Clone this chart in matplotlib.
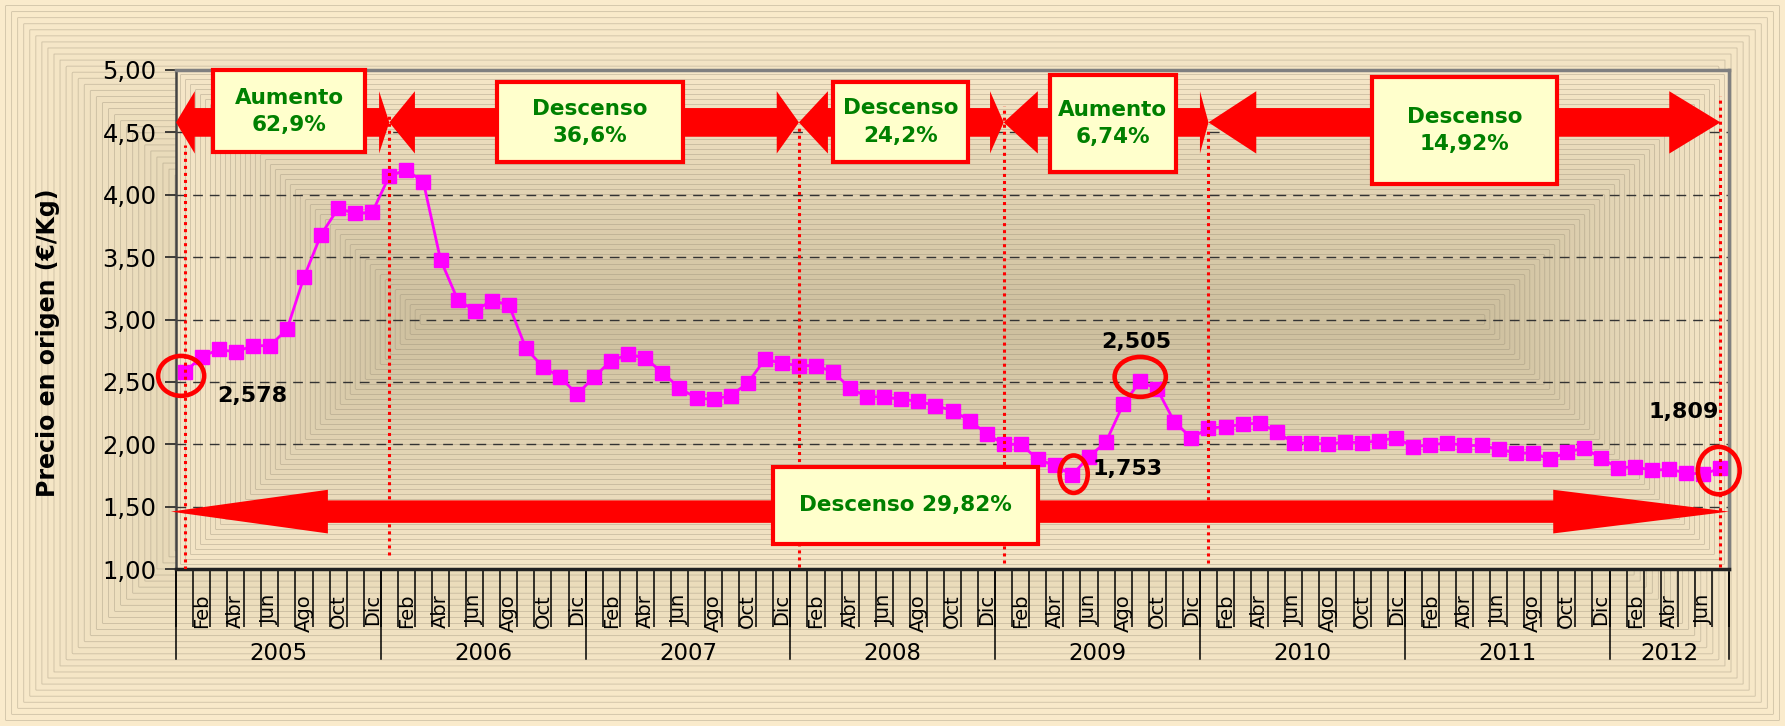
import numpy as np
import matplotlib
matplotlib.use("Agg")
import matplotlib.pyplot as plt
from matplotlib.patches import FancyArrow, Rectangle, Ellipse
from matplotlib.colors import LinearSegmentedColormap

# ---- data ----
years = [2005, 2006, 2007, 2008, 2009, 2010, 2011, 2012]
month_names = ["Ene", "Feb", "Mar", "Abr", "May", "Jun",
               "Jul", "Ago", "Sep", "Oct", "Nov", "Dic"]

prices = [
    2.578, 2.70, 2.76, 2.74, 2.79, 2.79, 2.92, 3.34, 3.68, 3.89, 3.85, 3.86,   # 2005
    4.15, 4.20, 4.10, 3.48, 3.16, 3.07, 3.15, 3.12, 2.77, 2.62, 2.54, 2.40,     # 2006
    2.54, 2.67, 2.72, 2.69, 2.575, 2.45, 2.37, 2.36, 2.39, 2.49, 2.68, 2.65,    # 2007
    2.63, 2.63, 2.58, 2.45, 2.38, 2.38, 2.36, 2.345, 2.31, 2.27, 2.19, 2.085,   # 2008
    2.00, 2.00, 1.88, 1.83, 1.753, 1.90, 2.02, 2.32, 2.505, 2.44, 2.18, 2.05,   # 2009
    2.13, 2.14, 2.16, 2.17, 2.10, 2.01, 2.01, 2.00, 2.02, 2.01, 2.03, 2.05,     # 2010
    1.98, 1.995, 2.01, 1.99, 1.99, 1.96, 1.93, 1.93, 1.88, 1.935, 1.97, 1.89,   # 2011
    1.81, 1.82, 1.79, 1.80, 1.77, 1.76, 1.809,                                  # 2012
]

# period limits (month index) and their change
period_bounds = [0, 12, 36, 48, 60, 90]
period_kind = ["Aumento", "Descenso", "Descenso", "Aumento", "Descenso"]
period_pct = ["62,9%", "36,6%", "24,2%", "6,74%", "14,92%"]
total_text = "Descenso 29,82%"

# highlighted months: first, minimum, peak, last
highlight_idx = [0, 52, 56, 90]

n = len(prices)
x = np.arange(n)

RED = "#FF0000"
GREEN = "#008000"
MAGENTA = "#FF00FF"

plt.rcParams["font.family"] = ["DejaVu Sans"]

fig = plt.figure(figsize=(17.85, 7.26), dpi=100)


def rect_field(w, h):
    yy, xx = np.mgrid[0:h, 0:w] + 0.5
    dx = np.abs(xx - w / 2) - (w - h) / 2
    dy = np.abs(yy - h / 2)
    return np.clip(np.maximum(dx, dy) / (h / 2), 0, 1)


def gradient(target, w, h, extent, c_in, c_out, steps, zorder):
    d = rect_field(w, h)
    q = np.floor(d * steps) / steps
    cmap = LinearSegmentedColormap.from_list("g", [c_in, c_out])
    target.imshow(q, cmap=cmap, vmin=0, vmax=1, extent=extent, origin="lower",
                  aspect="auto", interpolation="nearest", zorder=zorder)
    xs = np.linspace(extent[0], extent[1], w)
    ys = np.linspace(extent[2], extent[3], h)
    target.contour(xs, ys, d, levels=np.arange(1, steps) / steps,
                   colors="#8f8570", linewidths=0.6, alpha=0.4, zorder=zorder + 0.1)


# figure background
bg = fig.add_axes([0, 0, 1, 1], zorder=-10)
gradient(bg, 1785, 726, (0, 1, 0, 1), "#D3C5A2", "#FBECCD", 60, 0)
bg.set_xlim(0, 1)
bg.set_ylim(0, 1)
bg.axis("off")

# plot area
ax = fig.add_axes([176 / 1785, 1 - 569 / 726, 1553 / 1785, 499 / 726])
ax.set_xlim(-0.5, n - 0.5)
ax.set_ylim(1.0, 5.0)
gradient(ax, 1553, 499, (-0.5, n - 0.5, 1.0, 5.0), "#CDBF9E", "#F7E8C9", 50, 0)

for yv in np.arange(1.5, 5.01, 0.5):
    ax.axhline(yv, color="#333333", lw=1.0, linestyle=(0, (7, 5)), zorder=1)

# y axis
ax.set_yticks(np.arange(1.0, 5.01, 0.5))
ax.set_yticklabels([f"{v:.2f}".replace(".", ",") for v in np.arange(1.0, 5.01, 0.5)])
ax.tick_params(axis="y", length=8, width=1.2, pad=6, labelsize=17.5, color="#222222")

# x axis: month labels every two months, ticks at month boundaries
label_pos = [i for i in range(n) if i % 12 % 2 == 1]
ax.set_xticks(label_pos)
ax.set_xticklabels([month_names[i % 12] for i in label_pos], rotation=90)
ax.set_xticks(np.arange(-0.5, n, 1.0), minor=True)
ax.tick_params(axis="x", which="major", length=0, pad=18, labelsize=14)
ax.tick_params(axis="x", which="minor", length=42, width=1.1, color="black")

xt = ax.get_xaxis_transform()
year_edges = [12 * k - 0.5 for k in range(len(years))] + [n - 0.5]
for b in year_edges:
    ax.plot([b, b], [0, -90 / 499], transform=xt, clip_on=False, color="black", lw=1.1)
for k, yr in enumerate(years):
    centre = (year_edges[k] + year_edges[k + 1]) / 2
    ax.text(centre, -84 / 499, str(yr), transform=xt, ha="center", va="center",
            fontsize=16.5)

for side, col, lw in [("left", "#444444", 1.8), ("bottom", "#222222", 2.5),
                      ("top", "#808080", 2.5), ("right", "#808080", 2.5)]:
    ax.spines[side].set_color(col)
    ax.spines[side].set_linewidth(lw)

fig.text(0.027, 1 - 343 / 726, "Precio en origen (€/Kg)", rotation=90,
         ha="center", va="center", fontsize=17, fontweight="bold")

# data line
ax.plot(x, prices, color=MAGENTA, lw=2, marker="s", markersize=10.5,
        markeredgecolor=MAGENTA, zorder=3)

# red dotted period limits
line_tops = [4.40, 4.64, 4.55, 4.71, 4.52, 4.79]
line_bottoms = [1.0, 1.11, 1.02, 1.05, 1.05, 1.02]
for b, y0, y1 in zip(period_bounds, line_bottoms, line_tops):
    ax.plot([b, b], [y0, y1], color=RED, lw=2.2, linestyle=(0, (1, 1.3)), zorder=3.5)

# period arrows with boxes
arrow_y = 4.58
head_left = [1.1, 1.5, 1.7, 2.0, 2.8]
head_right = [0.6, 1.3, 0.8, 0.5, 3.0]
boxes = [(1.67, 10.6, 4.34, 5.0), (18.3, 29.2, 4.26, 4.90), (38.0, 45.9, 4.26, 4.905),
         (50.7, 58.1, 4.18, 4.96), (69.6, 80.4, 4.09, 4.94)]
for k in range(len(period_kind)):
    left = period_bounds[k] - (0.5 if k == 0 else 0)
    right = period_bounds[k + 1]
    mid = (left + right) / 2
    for tip, hl in [(left, head_left[k]), (right, head_right[k])]:
        ax.add_patch(FancyArrow(mid, arrow_y, tip - mid, 0, width=0.23, head_width=0.5,
                                head_length=hl, length_includes_head=True,
                                color=RED, lw=0, zorder=4, clip_on=False))
    x0, x1, y0, y1 = boxes[k]
    ax.add_patch(Rectangle((x0, y0), x1 - x0, y1 - y0, facecolor="#FFFFCC",
                           edgecolor=RED, lw=3, zorder=5, clip_on=False))
    ax.text((x0 + x1) / 2, (y0 + y1) / 2, f"{period_kind[k]}\n{period_pct[k]}",
            ha="center", va="center", color=GREEN, fontsize=15.5, fontweight="bold",
            linespacing=1.45, zorder=6)

# total arrow along the bottom
total_y = 1.46
tmid = (n - 1) / 2
ax.add_patch(FancyArrow(tmid, total_y, -0.8 - tmid, 0, width=0.18, head_width=0.35,
                        head_length=9.2, length_includes_head=True, color=RED, lw=0,
                        zorder=4, clip_on=False))
ax.add_patch(FancyArrow(tmid, total_y, n - 0.5 - tmid, 0, width=0.18, head_width=0.35,
                        head_length=10.3, length_includes_head=True, color=RED, lw=0,
                        zorder=4, clip_on=False))
ax.add_patch(Rectangle((34.5, 1.20), 15.5, 0.62, facecolor="#FFFFCC",
                       edgecolor=RED, lw=3, zorder=5))
ax.text(42.25, 1.51, total_text, ha="center", va="center", color=GREEN,
        fontsize=15.5, fontweight="bold", zorder=6)

# highlighted values
ell_shift = [(-0.2, -0.03), (0.1, 0.007), (0.0, 0.035), (-0.1, -0.02)]
ell_size = [(2.7, 0.32), (1.65, 0.30), (3.0, 0.32), (2.45, 0.38)]
lab_pos = [(1.9, 2.39, "left"), (53.2, 1.80, "left"), (55.75, 2.82, "center"),
           (89.9, 2.26, "right")]
for i, (sx, sy), (w, h), (lx, ly, ha) in zip(highlight_idx, ell_shift, ell_size, lab_pos):
    ax.add_patch(Ellipse((i + sx, prices[i] + sy), w, h, fill=False, edgecolor=RED,
                         lw=3.3, zorder=6, clip_on=False))
    ax.text(lx, ly, f"{prices[i]:.3f}".replace(".", ","), ha=ha, va="center",
            fontsize=16, fontweight="bold", zorder=6)

fig.savefig("out.png", dpi=100)
